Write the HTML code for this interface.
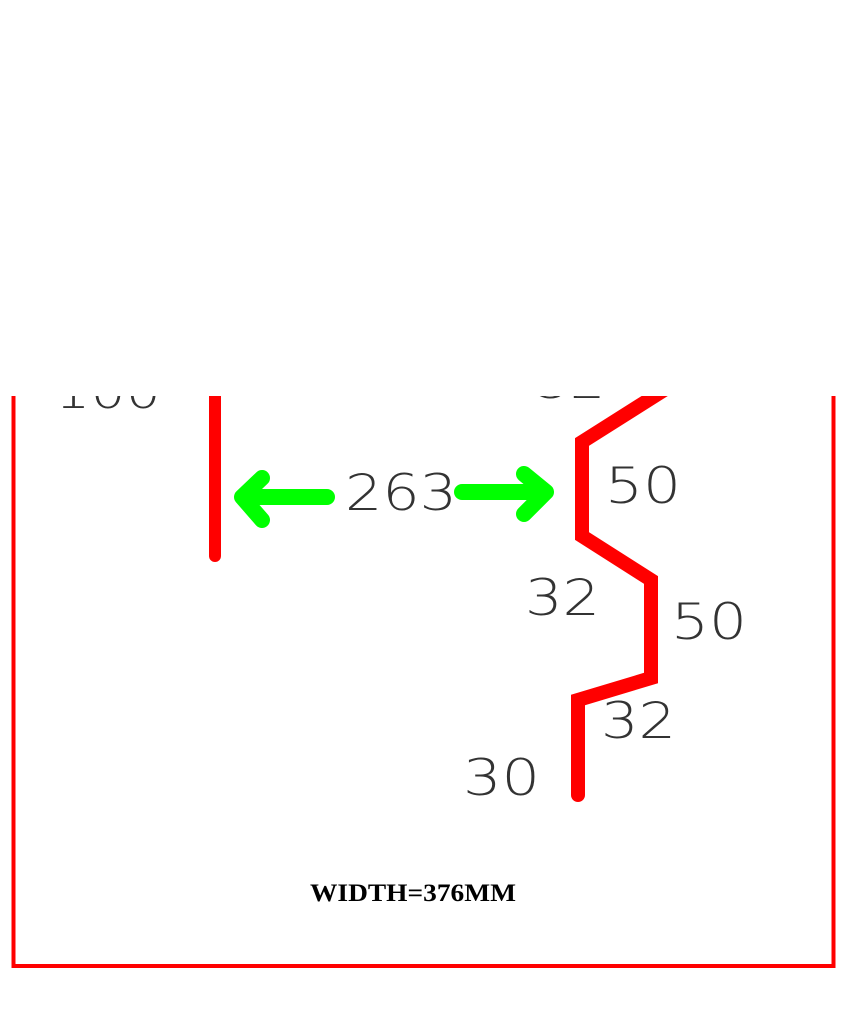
<!DOCTYPE html>
<html><head><meta charset="utf-8"><style>
html,body{margin:0;padding:0;background:#fff;}
svg{display:block;}
text{font-family:"DejaVu Sans","Liberation Sans",sans-serif;fill:#333;font-weight:200;}
</style></head><body>
<svg width="848" height="1010" viewBox="0 0 848 1010">
<defs><clipPath id="c"><rect x="0" y="396" width="848" height="614"/></clipPath></defs>
<g clip-path="url(#c)">
<rect x="13.5" y="300" width="820" height="666" fill="none" stroke="#ff0000" stroke-width="4"/>
<text x="55" y="408" font-size="46" textLength="106" lengthAdjust="spacingAndGlyphs">100</text>
<text x="535" y="398" font-size="46" textLength="70" lengthAdjust="spacingAndGlyphs">32</text>
<line x1="215" y1="380" x2="215" y2="556" stroke="#ff0000" stroke-width="12" stroke-linecap="round"/>
<polyline points="680,380 582,442 582,536 651,580 651,678 578,700 578,795" fill="none" stroke="#ff0000" stroke-width="14" stroke-linecap="round" stroke-linejoin="miter"/>
<g stroke="#00ff00" fill="none" stroke-linecap="round" stroke-linejoin="round">
<line x1="245" y1="497" x2="327" y2="497" stroke-width="16"/>
<polyline points="262,478 242,497 262,520" stroke-width="16"/>
<line x1="462" y1="492" x2="540" y2="492" stroke-width="16"/>
<polyline points="524,474 546,492 524,514" stroke-width="16"/>
</g>
<text x="345" y="510" font-size="50" textLength="112" lengthAdjust="spacingAndGlyphs">263</text>
<text x="605" y="503" font-size="50" textLength="76" lengthAdjust="spacingAndGlyphs">50</text>
<text x="525" y="615" font-size="50" textLength="75" lengthAdjust="spacingAndGlyphs">32</text>
<text x="671" y="639" font-size="50" textLength="76" lengthAdjust="spacingAndGlyphs">50</text>
<text x="601" y="738" font-size="50" textLength="75" lengthAdjust="spacingAndGlyphs">32</text>
<text x="463" y="795" font-size="50" textLength="77" lengthAdjust="spacingAndGlyphs">30</text>
<text x="310" y="901" font-size="25" font-weight="bold" style="font-family:'Liberation Serif',serif;fill:#000;font-weight:bold" textLength="206" lengthAdjust="spacingAndGlyphs">WIDTH=376MM</text>
</g>
</svg>
</body></html>
